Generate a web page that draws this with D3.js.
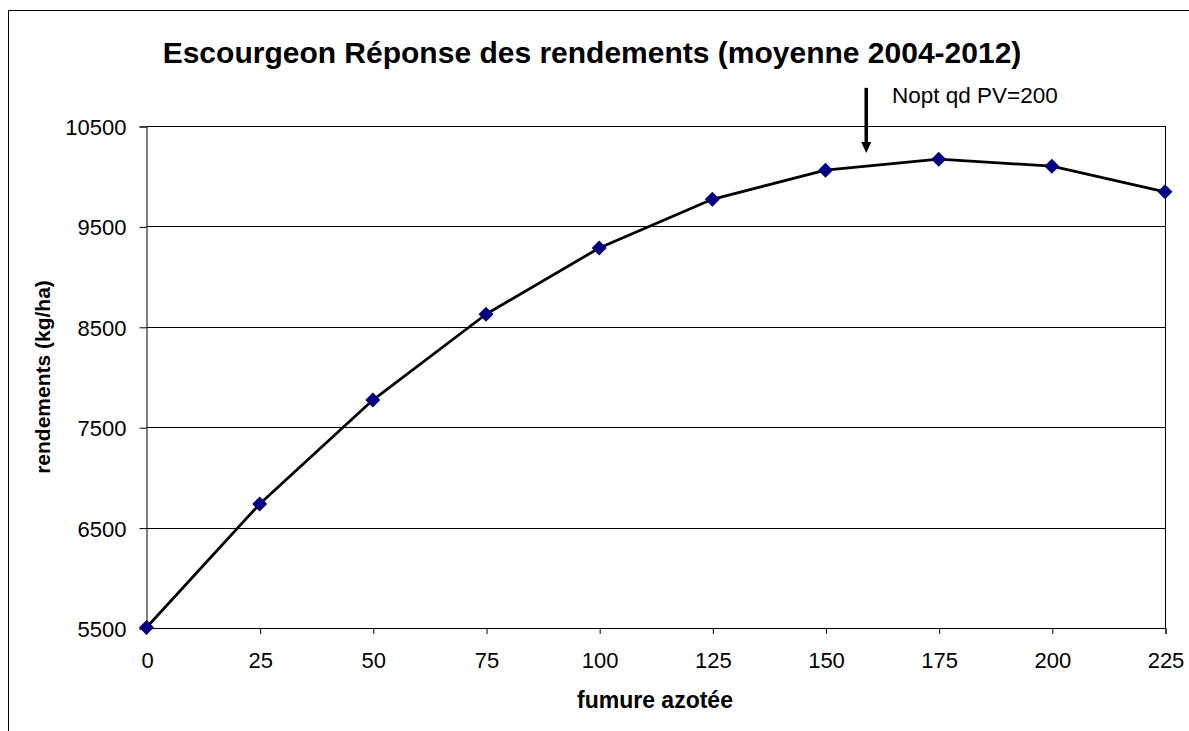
<!DOCTYPE html>
<html>
<head>
<meta charset="utf-8">
<script src="https://cdn.jsdelivr.net/npm/d3@7"></script>
<style>
  body { margin: 0; background: #fff; }
  text { font-family: Arial, "Liberation Sans", sans-serif; fill: #000; }
</style>
</head>
<body>
<svg id="chart" width="1189" height="731"></svg>
<script>
// data
var doses = [0, 25, 50, 75, 100, 125, 150, 175, 200, 225];
var rendements = [5505, 6735, 7770, 8625, 9285, 9770, 10060, 10170, 10100, 9845];
var yTicks = [5500, 6500, 7500, 8500, 9500, 10500];
var arrowX = 159, arrowFrom = 10880, arrowTo = 10230;
var noteText = "Nopt qd PV=200";

var svg = d3.select("#chart");
var margin = {left: 146.5, top: 126, right: 1165, bottom: 628};

var x = d3.scaleLinear().domain([0, 225]).range([margin.left, margin.right]);
var y = d3.scaleLinear().domain([5500, 10500]).range([margin.bottom, margin.top]);

// outer chart border (runs past the picture edges)
svg.append("rect")
    .attr("x", 8.5).attr("y", 10.5)
    .attr("width", 1200).attr("height", 740)
    .attr("fill", "none").attr("stroke", "#000").attr("stroke-width", 1);

// gridlines
svg.append("g").selectAll("line").data(yTicks).enter().append("line")
    .attr("x1", margin.left).attr("x2", margin.right)
    .attr("y1", function(d) { return Math.round(y(d)) + 0.5; })
    .attr("y2", function(d) { return Math.round(y(d)) + 0.5; })
    .attr("stroke", "#000").attr("stroke-width", 1);

// right edge of plot area
svg.append("line")
    .attr("x1", margin.right + 0.5).attr("x2", margin.right + 0.5)
    .attr("y1", margin.top).attr("y2", margin.bottom)
    .attr("stroke", "#000");

// axes
var yAxis = d3.axisLeft(y).tickValues(yTicks).tickSize(7).tickPadding(13).tickFormat(d3.format("d"));
var gy = svg.append("g").attr("transform", "translate(" + (margin.left) + ",0.5)").call(yAxis);
gy.selectAll("text").style("font-size", "22px").attr("dy", "0.36em");

var xAxis = d3.axisBottom(x).tickValues(doses).tickSize(6).tickPadding(18).tickFormat(d3.format("d"));
var gx = svg.append("g").attr("transform", "translate(0.5," + (margin.bottom) + ")").call(xAxis);
gx.selectAll("text").style("font-size", "22px");

svg.selectAll(".domain").attr("stroke", "#000");
svg.selectAll(".tick line").attr("stroke", "#000");

// line
var line = d3.line()
    .x(function(d, i) { return x(doses[i]); })
    .y(function(d) { return y(d); });

svg.append("path")
    .datum(rendements)
    .attr("d", line)
    .attr("fill", "none")
    .attr("stroke", "#000")
    .attr("stroke-width", 2.8)
    .attr("stroke-linejoin", "round");

// diamond markers
svg.append("g").selectAll("path").data(rendements).enter().append("path")
    .attr("d", "M0,-7.5L7.5,0L0,7.5L-7.5,0Z")
    .attr("transform", function(d, i) { return "translate(" + x(doses[i]) + "," + y(d) + ")"; })
    .attr("fill", "#000080");

// annotation arrow
var ax = x(arrowX), ay1 = y(arrowFrom), ay2 = y(arrowTo);
svg.append("line")
    .attr("x1", ax).attr("x2", ax)
    .attr("y1", ay1).attr("y2", ay2 - 9)
    .attr("stroke", "#000").attr("stroke-width", 3.5);
svg.append("path")
    .attr("d", "M" + (ax - 5) + "," + (ay2 - 11) + "L" + (ax + 5) + "," + (ay2 - 11) + "L" + ax + "," + ay2 + "Z")
    .attr("fill", "#000");
svg.append("text")
    .attr("x", 892).attr("y", 103)
    .style("font-size", "22.5px")
    .text(noteText);

// titles
svg.append("text")
    .attr("x", 592).attr("y", 63)
    .attr("text-anchor", "middle")
    .style("font-size", "30px").style("font-weight", "bold")
    .text("Escourgeon Réponse des rendements (moyenne 2004-2012)");

svg.append("text")
    .attr("x", 655).attr("y", 708)
    .attr("text-anchor", "middle")
    .style("font-size", "23px").style("font-weight", "bold")
    .text("fumure azotée");

svg.append("text")
    .attr("transform", "translate(50,377) rotate(-90)")
    .attr("text-anchor", "middle")
    .style("font-size", "21px").style("font-weight", "bold")
    .text("rendements (kg/ha)");
</script>
</body>
</html>
